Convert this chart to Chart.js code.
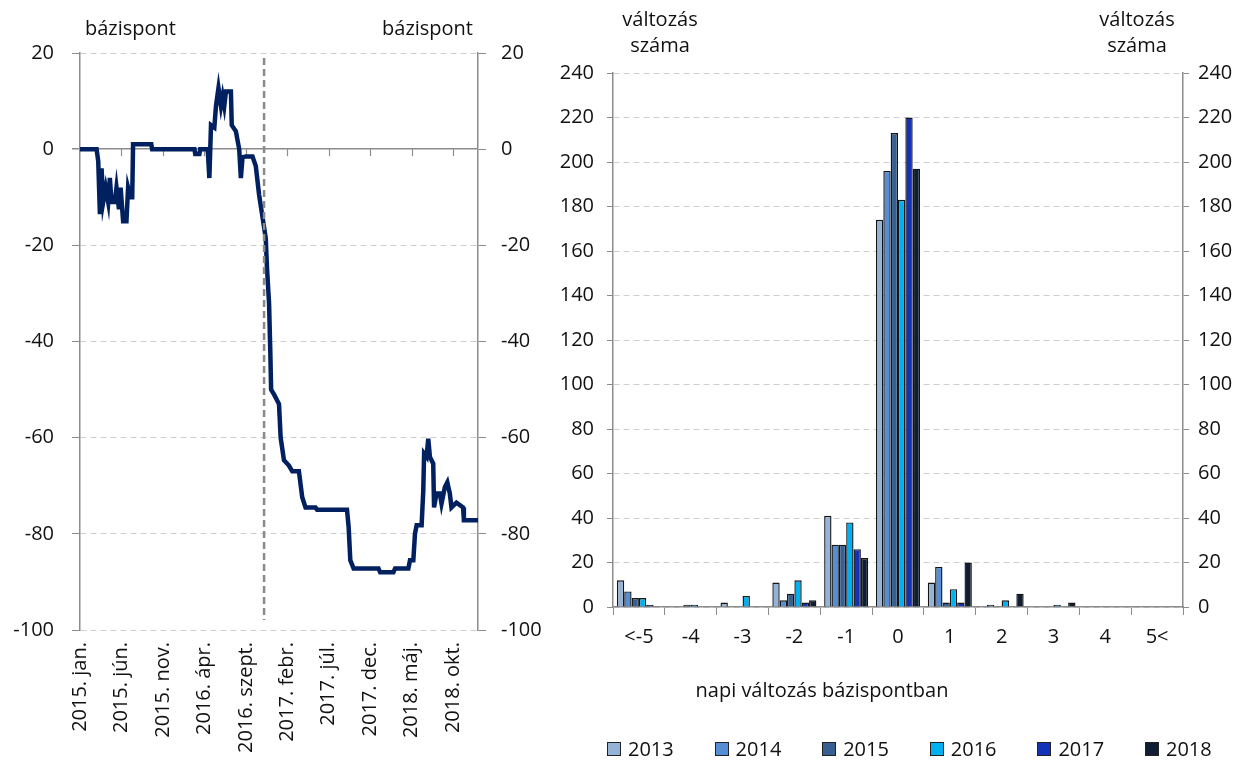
<!DOCTYPE html>
<html>
<head>
<meta charset="utf-8">
<script src="https://cdn.jsdelivr.net/npm/chart.js@4.4.0/dist/chart.umd.min.js"></script>
<style>
  body { margin: 0; background: #fff; width: 1256px; height: 765px; overflow: hidden; position: relative;
         font-family: 'Open Sans', sans-serif; color: #111; }
  .box { position: absolute; top: 0; height: 765px; }
  .txt { position: absolute; font-size: 20px; line-height: 26px; white-space: nowrap; }
  .center { text-align: center; }
  #legend { position: absolute; left: 607px; top: 736px; display: flex; }
  #legend .item { width: 107.6px; display: flex; align-items: center; font-size: 20px; line-height: 26px; }
  #legend .sw { width: 12px; height: 12px; border: 1px solid #222; margin-right: 7px; }
</style>
</head>
<body>
<div class="box" style="left:540px;width:716px"><canvas id="histChart"></canvas></div>
<div class="box" style="left:0;width:560px"><canvas id="spreadChart"></canvas></div>

<div class="txt" style="left:85px;top:15px">bázispont</div>
<div class="txt" style="left:373px;top:15px;width:100px;text-align:right">bázispont</div>
<div class="txt center" style="left:600px;top:6px;width:120px">változás<br>száma</div>
<div class="txt center" style="left:1077px;top:6px;width:120px">változás<br>száma</div>
<div class="txt center" style="left:672px;top:677px;width:300px">napi változás bázispontban</div>
<div id="legend"></div>

<script>
// ---- left chart: spread in basis points (x = months since 2015 jan.) ----
const monthLabels = ['2015. jan.', '2015. jún.', '2015. nov.', '2016. ápr.', '2016. szept.',
                     '2017. febr.', '2017. júl.', '2017. dec.', '2018. máj.', '2018. okt.'];
const spreadMonths = [0, 2.0, 2.2, 2.4, 2.6, 2.8, 3.1, 3.4, 3.6, 3.8, 4.2, 4.4, 4.7, 4.9, 5.2, 5.6, 5.8, 6.1, 6.3,
                      6.4, 8.6, 8.7, 13.8, 13.9, 14.4, 14.5, 15.4, 15.6, 15.8, 16.2, 16.4, 16.7, 17.0, 17.2, 17.4,
                      17.6, 18.2, 18.3, 18.8, 19.2, 19.4, 19.6, 20.0, 20.8, 21.2, 21.6, 22.0, 22.4, 22.56, 22.8,
                      22.95, 23.05, 23.4, 24.0, 24.2, 24.6, 25.2, 25.6, 26.4, 26.8, 27.2, 28.4, 28.6, 32.2, 32.4,
                      32.6, 33.0, 36.0, 36.2, 37.8, 38.0, 39.6, 39.8, 40.2, 40.4, 40.6, 41.2, 41.4, 41.5, 41.8,
                      42.0, 42.2, 42.6, 42.7, 43.0, 43.4, 43.6, 44.0, 44.3, 44.6, 44.8, 45.4, 46.2, 46.3, 48.0];
const spreadValues = [0, 0, -2.5, -13.5, -4, -11, -8, -11, -6, -11, -11, -8, -12.5, -8, -15, -15, -8, -10, -10,
                      1, 1, 0, 0, -1, -1, 0, 0, -6, 5, 4.5, 9, 12.7, 9, 11, 9,
                      12, 12, 5, 3.7, 0, -6, -1.7, -1.5, -1.5, -3.5, -9.5, -14, -18.5, -25, -32,
                      -42, -50, -51, -53, -60, -64.7, -65.8, -67, -67, -72.4, -74.5, -74.5, -75, -75, -78.6,
                      -85.5, -87.2, -87.2, -88, -88, -87.2, -87.2, -85.5, -85.5, -80, -78.2, -78.2, -71, -63.3, -64,
                      -60.2, -64, -65.4, -74.5, -71.6, -71.6, -73.7, -70.3, -69.3, -71.6, -74.5, -73.5, -74.5, -77.2, -77.2];
const markerMonth = 22.2;   // 2016 Nov

// ---- right chart: histogram of daily changes ----
const bins = ['<-5', '-4', '-3', '-2', '-1', '0', '1', '2', '3', '4', '5<'];
const years = ['2013', '2014', '2015', '2016', '2017', '2018'];
const yearColors = ['#95b3d7', '#558ed5', '#376092', '#00b0f0', '#1432b8', '#0f1e33'];
const counts2013 = [12, 0, 2, 11, 41, 174, 11, 0, 0, 0, 0];
const counts2014 = [7, 0, 0, 3, 28, 196, 18, 1, 0, 0, 0];
const counts2015 = [4, 1, 0, 6, 28, 213, 2, 0, 0, 0, 0];
const counts2016 = [4, 1, 5, 12, 38, 183, 8, 3, 1, 0, 0];
const counts2017 = [1, 0, 0, 2, 26, 220, 2, 0, 0, 0, 0];
const counts2018 = [0, 0, 0, 3, 22, 197, 20, 6, 2, 0, 0];
const yearCounts = [counts2013, counts2014, counts2015, counts2016, counts2017, counts2018];

const FONT = { family: "'Open Sans', sans-serif", size: 20 };
const TXT = '#111';
const AXIS = '#8c8c8c';
const GRID = '#cfcfcf';

Chart.defaults.font = FONT;
Chart.defaults.color = TXT;
Chart.defaults.animation = false;

// dashed marker line and little ticks on the zero line
const spreadExtras = {
    id: 'spreadExtras',
    beforeDatasetsDraw(chart) {
        const x = chart.scales.x, y = chart.scales.y;
        const y0 = y.getPixelForValue(0);
        const c = chart.ctx;
        c.save();
        c.strokeStyle = AXIS;
        c.lineWidth = 1.2;
        for (let m = 5; m < 48; m += 5) {
            const px = Math.round(x.getPixelForValue(m)) + 0.5;
            c.beginPath();
            c.moveTo(px, y0);
            c.lineTo(px, y0 + 7);
            c.stroke();
        }
        c.restore();
    },
    afterDatasetsDraw(chart) {
        const x = chart.scales.x;
        const c = chart.ctx;
        const px = x.getPixelForValue(markerMonth);
        c.save();
        c.strokeStyle = '#8a8a8a';
        c.lineWidth = 2.5;
        c.setLineDash([7, 4]);
        c.beginPath();
        c.moveTo(px, chart.chartArea.top + 5);
        c.lineTo(px, chart.chartArea.bottom - 10);
        c.stroke();
        c.restore();
    }
};

new Chart(document.getElementById('spreadChart'), {
    type: 'line',
    data: {
        datasets: [{
            data: spreadMonths.map((m, i) => ({ x: m, y: spreadValues[i] })),
            borderColor: '#002060',
            borderWidth: 4.5,
            pointRadius: 0,
            tension: 0
        }]
    },
    options: {
        responsive: true,
        maintainAspectRatio: false,
        layout: { padding: { top: 53, left: 0, right: 0, bottom: 0 } },
        plugins: { legend: { display: false }, tooltip: { enabled: false } },
        scales: {
            x: {
                type: 'linear',
                min: 0,
                max: 48,
                afterFit: s => { s.height = 135; },
                border: { display: false },
                grid: { display: false, drawTicks: false },
                ticks: {
                    stepSize: 5,
                    autoSkip: false,
                    minRotation: 90,
                    maxRotation: 90,
                    padding: 12,
                    callback: v => (v % 5 === 0 ? monthLabels[v / 5] : '')
                }
            },
            y: {
                position: 'left',
                min: -100,
                max: 20,
                afterFit: s => { s.width = 80; },
                border: { color: AXIS, width: 1.5, dash: ctx => (ctx.tick && ctx.tick.value === 0 ? [] : [6, 4]) },
                grid: {
                    color: ctx => (ctx.tick && ctx.tick.value === 0 ? AXIS : GRID),
                    lineWidth: ctx => (ctx.tick && ctx.tick.value === 0 ? 1.5 : 1),
                    tickColor: AXIS,
                    tickLength: 8
                },
                ticks: { stepSize: 20, padding: 18 }
            },
            y2: {
                position: 'right',
                min: -100,
                max: 20,
                afterFit: s => { s.width = 82; },
                border: { color: AXIS, width: 1.5 },
                grid: { drawOnChartArea: false, tickColor: AXIS, tickLength: 8 },
                ticks: { stepSize: 20, padding: 15 }
            }
        }
    },
    plugins: [spreadExtras]
});

new Chart(document.getElementById('histChart'), {
    type: 'bar',
    data: {
        labels: bins,
        datasets: years.map((yr, i) => ({
            label: yr,
            data: yearCounts[i],
            backgroundColor: yearColors[i],
            borderColor: '#151515',
            borderWidth: ctx => (ctx.raw === 0 ? 0 : 1.4),
            barPercentage: 1,
            categoryPercentage: 0.85
        }))
    },
    options: {
        responsive: true,
        maintainAspectRatio: false,
        layout: { padding: { top: 73, left: 0, right: 0, bottom: 0 } },
        plugins: { legend: { display: false }, tooltip: { enabled: false } },
        scales: {
            x: {
                afterFit: s => { s.height = 158; },
                border: { color: AXIS, width: 1.5 },
                grid: { drawOnChartArea: false, tickColor: AXIS, tickLength: 8, offset: true },
                ticks: { padding: 10 }
            },
            y: {
                position: 'left',
                min: 0,
                max: 240,
                afterFit: s => { s.width = 73; },
                border: { color: AXIS, width: 1.5, dash: [6, 4] },
                grid: { color: GRID, tickColor: AXIS, tickLength: 6 },
                ticks: { stepSize: 20, padding: 13 }
            },
            y2: {
                position: 'right',
                min: 0,
                max: 240,
                afterFit: s => { s.width = 73; },
                border: { color: AXIS, width: 1.5 },
                grid: { drawOnChartArea: false, tickColor: AXIS, tickLength: 6 },
                ticks: { stepSize: 20, padding: 9 }
            }
        }
    }
});

// legend built from the series names and colours
const legend = document.getElementById('legend');
years.forEach((yr, i) => {
    const item = document.createElement('div');
    item.className = 'item';
    item.innerHTML = '<span class="sw" style="background:' + yearColors[i] + '"></span>' + yr;
    legend.appendChild(item);
});
</script>
</body>
</html>
